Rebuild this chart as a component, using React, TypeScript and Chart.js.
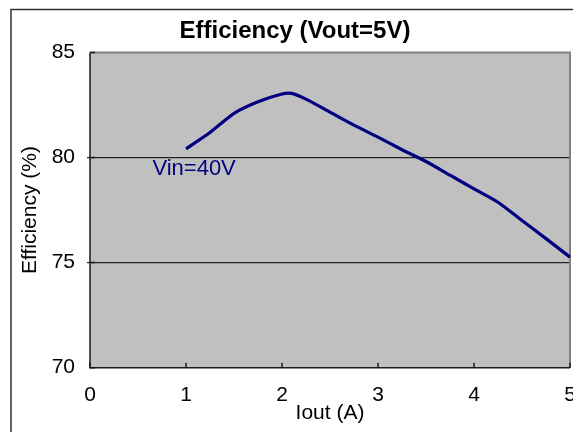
import React, { useEffect, useRef } from "react";
import { Chart, registerables } from "chart.js";

Chart.register(...registerables);

const chartTitle = "Efficiency (Vout=5V)";
const xTitle = "Iout (A)";
const yTitle = "Efficiency (%)";
const seriesLabel = "Vin=40V";

const currents = [1, 1.25, 1.5, 1.75, 2, 2.1, 2.25, 2.5, 2.75, 3, 3.25, 3.5, 3.75, 4, 4.25, 4.5, 4.75, 5];
const efficiency = [80.41, 81.19, 82.1, 82.65, 83.02, 83.05, 82.78, 82.16, 81.54, 80.97, 80.37, 79.81, 79.16, 78.51, 77.87, 77.0, 76.14, 75.26];

const xTicks = [0, 1, 2, 3, 4, 5];
const yTicks = [70, 75, 80, 85];
const labelAnchor = { x: 0.65, y: 79.45 };

const FONT = "'Liberation Sans', Arial, Helvetica, sans-serif";

export default function App() {
  const ref = useRef<HTMLCanvasElement>(null);

  useEffect(() => {
    const canvas = ref.current;
    if (!canvas) return;

    const decor = {
      id: "decor",
      beforeDraw(chart: any) {
        const { ctx, chartArea: a } = chart;
        ctx.save();
        ctx.fillStyle = "#ffffff";
        ctx.fillRect(0, 0, chart.width, chart.height);
        ctx.strokeStyle = "#333333";
        ctx.lineWidth = 1.5;
        ctx.strokeRect(11, 9.5, 2000, 2000);
        ctx.fillStyle = "#c0c0c0";
        ctx.fillRect(a.left, a.top, a.right - a.left, a.bottom - a.top);
        ctx.restore();
      },
      beforeDatasetsDraw(chart: any) {
        const { ctx, chartArea: a, scales } = chart;
        ctx.save();
        ctx.strokeStyle = "#808080";
        ctx.lineWidth = 2;
        ctx.beginPath();
        ctx.moveTo(a.left, a.top);
        ctx.lineTo(a.right, a.top);
        ctx.lineTo(a.right, a.bottom);
        ctx.stroke();
        ctx.strokeStyle = "#1a1a1a";
        ctx.lineWidth = 1.5;
        ctx.beginPath();
        ctx.moveTo(a.left, a.top);
        ctx.lineTo(a.left, a.bottom);
        ctx.lineTo(a.right, a.bottom);
        ctx.stroke();
        ctx.beginPath();
        xTicks.forEach((v) => {
          const px = scales.x.getPixelForValue(v);
          ctx.moveTo(px, a.bottom);
          ctx.lineTo(px, a.bottom - 5);
        });
        yTicks.forEach((v) => {
          const py = scales.y.getPixelForValue(v);
          ctx.moveTo(a.left, py);
          ctx.lineTo(a.left + 5, py);
        });
        ctx.stroke();
        ctx.restore();
      },
      afterDatasetsDraw(chart: any) {
        const { ctx, scales } = chart;
        ctx.save();
        ctx.fillStyle = "#000080";
        ctx.font = `22px ${FONT}`;
        ctx.textAlign = "left";
        ctx.textBaseline = "middle";
        ctx.fillText(seriesLabel, scales.x.getPixelForValue(labelAnchor.x), scales.y.getPixelForValue(labelAnchor.y));
        ctx.restore();
      },
    };

    const chart = new Chart(canvas, {
      type: "line",
      data: {
        datasets: [
          {
            label: seriesLabel,
            data: currents.map((c, i) => ({ x: c, y: efficiency[i] })),
            borderColor: "#000080",
            borderWidth: 3.2,
            pointRadius: 0,
            tension: 0.2,
            fill: false,
            clip: 4,
          } as any,
        ],
      },
      options: {
        animation: false,
        responsive: false,
        devicePixelRatio: 1,
        layout: { padding: { left: 20, right: 30, top: 8, bottom: 0 } },
        plugins: {
          legend: { display: false },
          tooltip: { enabled: false },
          title: {
            display: true,
            text: chartTitle,
            color: "#000000",
            font: { family: FONT, size: 24, weight: "bold" },
            padding: { top: 9, bottom: 6.6 },
          },
        },
        scales: {
          x: {
            type: "linear",
            min: 0,
            max: 5,
            afterFit: (s: any) => {
              s.height = 64.3;
            },
            afterBuildTicks: (s: any) => {
              s.ticks = xTicks.map((v) => ({ value: v }));
            },
            grid: { drawOnChartArea: false, drawTicks: false },
            border: { display: false },
            ticks: {
              color: "#000000",
              font: { family: FONT, size: 21 },
              padding: 14.5,
              maxRotation: 0,
              autoSkip: false,
            },
            title: {
              display: true,
              text: xTitle,
              color: "#000000",
              font: { family: FONT, size: 21 },
              padding: { top: 0, bottom: 6.4 },
            },
          },
          y: {
            type: "linear",
            min: 70,
            max: 85,
            afterFit: (s: any) => {
              s.width = 70;
            },
            afterBuildTicks: (s: any) => {
              s.ticks = yTicks.map((v) => ({ value: v }));
            },
            grid: {
              color: (c: any) =>
                c.tick && (c.tick.value === 80 || c.tick.value === 75) ? "#222222" : "rgba(0,0,0,0)",
              lineWidth: 1.2,
              drawTicks: true,
              tickLength: 3,
            },
            border: { display: false },
            ticks: {
              color: "#000000",
              font: { family: FONT, size: 21 },
              padding: 12,
            },
            title: {
              display: true,
              text: yTitle,
              color: "#000000",
              font: { family: FONT, size: 21 },
              padding: { top: -2, bottom: 0 },
            },
          },
        },
      } as any,
      plugins: [decor],
    });

    return () => chart.destroy();
  }, []);

  return (
    <div style={{ position: "fixed", left: 0, top: 0, width: 573, height: 432, overflow: "hidden", background: "#fff" }}>
      <canvas ref={ref} width={600} height={432} style={{ display: "block", width: 600, height: 432 }} />
    </div>
  );
}
